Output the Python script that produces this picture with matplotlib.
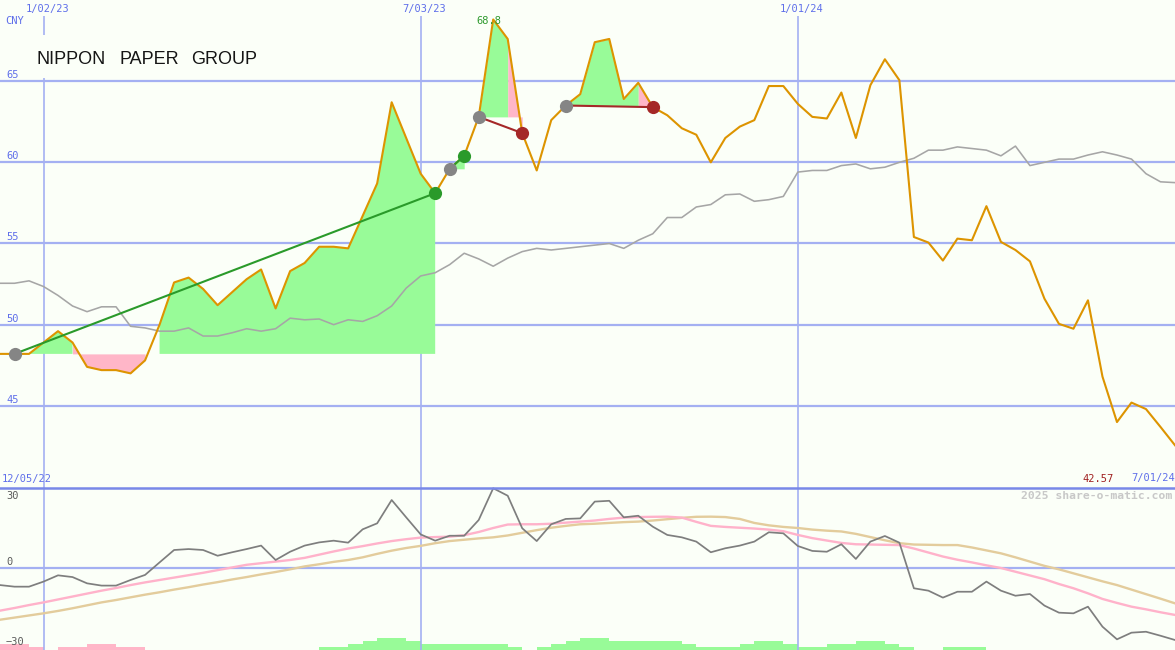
import matplotlib
matplotlib.use('Agg')
import matplotlib.pyplot as plt
import numpy as np
from matplotlib.patches import Rectangle
from matplotlib.lines import Line2D

W, H = 1175, 650
BG = '#FBFFF8'
GRID = '#A4B0F2'
SEP = '#7888E8'
LBL = '#5F6FEA'
ORANGE = '#DD9400'
GREEN_FILL = '#98FB98'
PINK_FILL = '#FFB6C8'

# ---------------- data (weekly, 12/12/22 .. 7/01/24) ----------------
price = [48.2, 48.2, 48.2, 48.9, 49.6, 48.9, 47.4, 47.2, 47.2, 47.0,
         47.8, 50.0, 52.6, 52.9, 52.2, 51.2, 52.0, 52.8, 53.4, 51.0,
         53.3, 53.8, 54.8, 54.8, 54.7, 56.7, 58.7, 63.7, 61.5, 59.3,
         58.1, 59.6, 60.4, 62.8, 68.8, 67.6, 61.8, 59.5, 62.6, 63.5,
         64.2, 67.4, 67.6, 63.9, 64.9, 63.4, 62.9, 62.1, 61.7, 60.0,
         61.5, 62.2, 62.6, 64.7, 64.7, 63.6, 62.8, 62.7, 64.3, 61.5,
         64.75, 66.35, 65.06, 55.4, 55.06, 53.95, 55.3, 55.2, 57.3, 55.1,
         54.6, 53.9, 51.6, 50.05, 49.75, 51.5, 46.8, 44.0, 45.2, 44.8,
         43.7, 42.57]

relative = [52.55, 52.55, 52.7, 52.35, 51.8, 51.15, 50.8, 51.1, 51.1, 49.9,
            49.8, 49.6, 49.6, 49.8, 49.3, 49.3, 49.5, 49.75, 49.6, 49.75,
            50.4, 50.3, 50.35, 50.0, 50.3, 50.2, 50.55, 51.15, 52.25, 53.0,
            53.2, 53.7, 54.4, 54.05, 53.6, 54.1, 54.5, 54.7, 54.6, 54.7,
            54.8, 54.9, 55.0, 54.7, 55.2, 55.6, 56.6, 56.6, 57.25, 57.4,
            58.0, 58.05, 57.6, 57.7, 57.9, 59.4, 59.5, 59.5, 59.8, 59.9,
            59.6, 59.7, 60.0, 60.25, 60.75, 60.75, 60.95, 60.85, 60.75, 60.4,
            61.0, 59.8, 60.0, 60.2, 60.2, 60.45, 60.65, 60.45, 60.2, 59.3,
            58.8, 58.75]

momentum = [-6.4, -7.0, -7.0, -5.1, -2.75, -3.4, -5.75, -6.6, -6.6, -4.5,
            -2.6, 2.1, 6.75, 7.1, 6.75, 4.6, 5.9, 7.1, 8.4, 3.0,
            6.1, 8.4, 9.6, 10.25, 9.5, 14.5, 16.75, 25.5, 19.0, 12.6,
            10.25, 12.1, 12.1, 18.0, 29.9, 27.1, 14.9, 10.1, 16.4, 18.4,
            18.6, 24.9, 25.2, 19.0, 19.6, 15.5, 12.4, 11.5, 9.9, 5.9,
            7.4, 8.4, 9.9, 13.4, 13.0, 8.25, 6.4, 6.1, 8.9, 3.4,
            9.9, 12.0, 9.5, -7.6, -8.5, -11.1, -8.9, -8.9, -5.1, -8.5,
            -10.4, -9.75, -14.1, -16.75, -17.0, -14.5, -22.0, -26.75, -24.25, -23.9,
            -25.4, -27.0]

ma_fast = [-16.0, -15.0, -13.9, -12.9, -11.8, -10.7, -9.6, -8.5, -7.5, -6.4,
           -5.4, -4.5, -3.6, -2.7, -1.8, -0.8, 0.2, 1.2, 1.8, 2.4,
           3.0, 3.8, 5.0, 6.2, 7.3, 8.2, 9.2, 10.1, 10.8, 11.4,
           11.6, 11.75, 12.3, 13.5, 15.0, 16.3, 16.4, 16.4, 16.6, 17.0,
           17.4, 17.8, 18.4, 18.9, 19.1, 19.2, 19.25, 18.9, 17.3, 15.8,
           15.4, 15.1, 14.8, 14.4, 13.8, 12.4, 11.2, 10.3, 9.4, 8.9,
           8.8, 8.7, 8.6, 7.3, 5.8, 4.3, 3.1, 2.1, 1.0, 0.0,
           -1.4, -2.8, -4.2, -6.0, -7.6, -9.5, -11.6, -13.1, -14.5, -15.5,
           -16.6, -17.6]

ma_slow = [-19.4, -18.6, -17.8, -17.0, -16.1, -15.1, -14.0, -12.9, -12.0, -11.0,
           -10.0, -9.1, -8.1, -7.2, -6.2, -5.3, -4.3, -3.4, -2.4, -1.5,
           -0.5, 0.6, 1.4, 2.3, 3.0, 4.0, 5.3, 6.5, 7.5, 8.3,
           9.3, 10.1, 10.6, 11.1, 11.5, 12.2, 13.2, 14.2, 15.1, 15.8,
           16.4, 16.6, 16.9, 17.2, 17.4, 17.8, 18.3, 18.8, 19.2, 19.25,
           19.1, 18.4, 16.9, 16.0, 15.4, 15.0, 14.4, 14.0, 13.7, 12.8,
           11.6, 10.4, 9.3, 8.8, 8.7, 8.6, 8.6, 7.7, 6.6, 5.5,
           4.0, 2.4, 0.8, -0.5, -2.0, -3.5, -5.0, -6.4, -8.1, -9.8,
           -11.5, -13.25]

hist = [-2, -2, -1, 0, -1, -1, -2, -2, -1, -1,
        0, 0, 0, 0, 0, 0, 0, 0, 0, 0,
        0, 0, 1, 1, 2, 3, 4, 4, 3, 2,
        2, 2, 2, 2, 2, 1, 0, 1, 2, 3,
        4, 4, 3, 3, 3, 3, 3, 2, 1, 1,
        1, 2, 3, 3, 2, 1, 1, 2, 2, 3,
        3, 2, 1, 0, 0, 1, 1, 1, 0, 0,
        0, 0, 0, 0, 0, 0, 0, 0, 0, 0,
        0, 0]

entries = [1, 31, 33, 39]
exits = [30, 32, 36, 45]
exit_win = [True, True, False, False]

date_ticks = [3, 29, 55]
date_labels = ['1/02/23', '7/03/23', '1/01/24']
price_ticks = [45, 50, 55, 60, 65]
mom_ticks = [30, 0, -30]
title_words = ['NIPPON', 'PAPER', 'GROUP']

n = len(price)
k = np.arange(n)

fig = plt.figure(figsize=(W / 100, H / 100), dpi=100, facecolor=BG)


def fx(x):
    return x / W


def fy(y):
    return 1 - y / H


# ---------------- upper panel ----------------
ax1 = fig.add_axes([0, 163 / H, 1, 487 / H])
ax1.set_xlim(0, n - 1)
ax1.set_ylim(40, 70)
ax1.axis('off')

for v in price_ticks:
    ax1.axhline(v, color=GRID, lw=1.6, zorder=0.5)
top_val = 70 - 16 * 30 / 487
ax1.vlines(date_ticks, 40, top_val, color=GRID, lw=1.2, zorder=0.5)

pr = np.array(price)
for e, x, win in zip(entries, exits, exit_win):
    base = price[e]
    seg = np.arange(e, x + 1)
    p = pr[seg]
    below = p < base
    pink_mask = below.copy()
    pink_mask[:-1] |= below[1:]
    green_mask = ~below
    ax1.fill_between(seg, base, p, where=green_mask, color=GREEN_FILL, lw=0, zorder=1)
    ax1.fill_between(seg, base, p, where=pink_mask, color=PINK_FILL, lw=0, zorder=1)

ax1.plot(k, relative, color='#A6A6A6', lw=1.15, zorder=3)
ax1.plot(k, price, color=ORANGE, lw=1.5, zorder=4)

for e, x, win in zip(entries, exits, exit_win):
    c = '#2A9A2A' if win else '#A52828'
    ax1.plot([e, x], [price[e], price[x]], color=c, lw=1.5, zorder=5)
    ax1.plot(e, price[e], 'o', ms=9.5, color='#858585', mec='none', zorder=6)
    ax1.plot(x, price[x], 'o', ms=9.5, color=c, mec='none', zorder=6)

# title with a background block
fig.add_artist(Rectangle((fx(30), fy(78)), fx(240), 43 / H, transform=fig.transFigure,
                         facecolor=BG, edgecolor='none', zorder=1))
for word, xl in zip(title_words, [36.5, 119.3, 190.7]):
    fig.text(fx(xl), fy(64.5), word, fontsize=13, family='Liberation Sans',
             color='#151515', ha='left', va='baseline', zorder=3)

mono = 'DejaVu Sans Mono'
for lab, xc in zip(date_labels, [47.5, 424, 801.5]):
    fig.text(fx(xc), fy(9), lab, fontsize=7.5, family=mono, color=LBL,
             ha='center', va='center')
fig.text(fx(5), fy(20.7), 'CNY', fontsize=7.5, family=mono, color=LBL, ha='left', va='center')
for v in price_ticks:
    ypx = (70 - v) / 30 * 487
    fig.text(fx(6), fy(ypx - 6), str(v), fontsize=7.5, family=mono, color=LBL,
             ha='left', va='center')

fig.text(fx(488.5), fy(21), f'{max(price):.1f}', fontsize=7.5, family=mono,
         color='#2E9A2E', ha='center', va='center', zorder=7)

fig.text(fx(2), fy(479), '12/05/22', fontsize=7.5, family=mono, color=LBL, ha='left', va='center')
fig.text(fx(1082.5), fy(478.5), f'{price[-1]:.2f}', fontsize=7.5, family=mono,
         color='#A02020', ha='left', va='center')
fig.text(fx(1131), fy(478.5), '7/01/24', fontsize=7.5, family=mono, color=LBL,
         ha='left', va='center')

# ---------------- lower panel ----------------
ax3 = fig.add_axes([0, 0, 1, 163 / H])
ax3.set_xlim(0, n - 1)
ax3.set_ylim(0, 163 / 3)
ax3.axis('off')
hv = np.array(hist)
colors = [GREEN_FILL if h > 0 else PINK_FILL for h in hist]
ax3.bar(k, np.abs(hv), width=1, align='edge', color=colors, lw=0)

ax2 = fig.add_axes([0, 0, 1, 163 / H])
ax2.set_xlim(0, n - 1)
ax2.set_ylim(-30.75, 30.375)
ax2.axis('off')
ax2.patch.set_visible(False)

ax2.axhline(0, color=GRID, lw=1.6, zorder=0.5)
ax2.vlines(date_ticks, -30.75, 30.375, color=GRID, lw=1.2, zorder=0.5)
ax2.plot(k, ma_slow, color='#E3CC9C', lw=1.7, zorder=2)
ax2.plot(k, ma_fast, color='#FFB2CA', lw=1.7, zorder=2.5)
ax2.plot(k, momentum, color='#7E7E7E', lw=1.25, zorder=3)

for v, ypx in zip(mom_ticks, [496.3, 562.3, 642.3]):
    fig.text(fx(6), fy(ypx), str(v).replace('-', '\u2212') if v < 0 else str(v),
             fontsize=7.5, family=mono, color='#5A5A5A', ha='left', va='center')

fig.text(fx(1172), fy(496), '2025 share-o-matic.com', fontsize=8.2, family=mono,
         fontweight='bold', color='#C8C8C8', ha='right', va='center')

fig.add_artist(Line2D([0, 1], [fy(487.5), fy(487.5)], transform=fig.transFigure,
                      color=SEP, lw=1.8, zorder=2))

fig.savefig('out.png', dpi=100, facecolor=BG)
